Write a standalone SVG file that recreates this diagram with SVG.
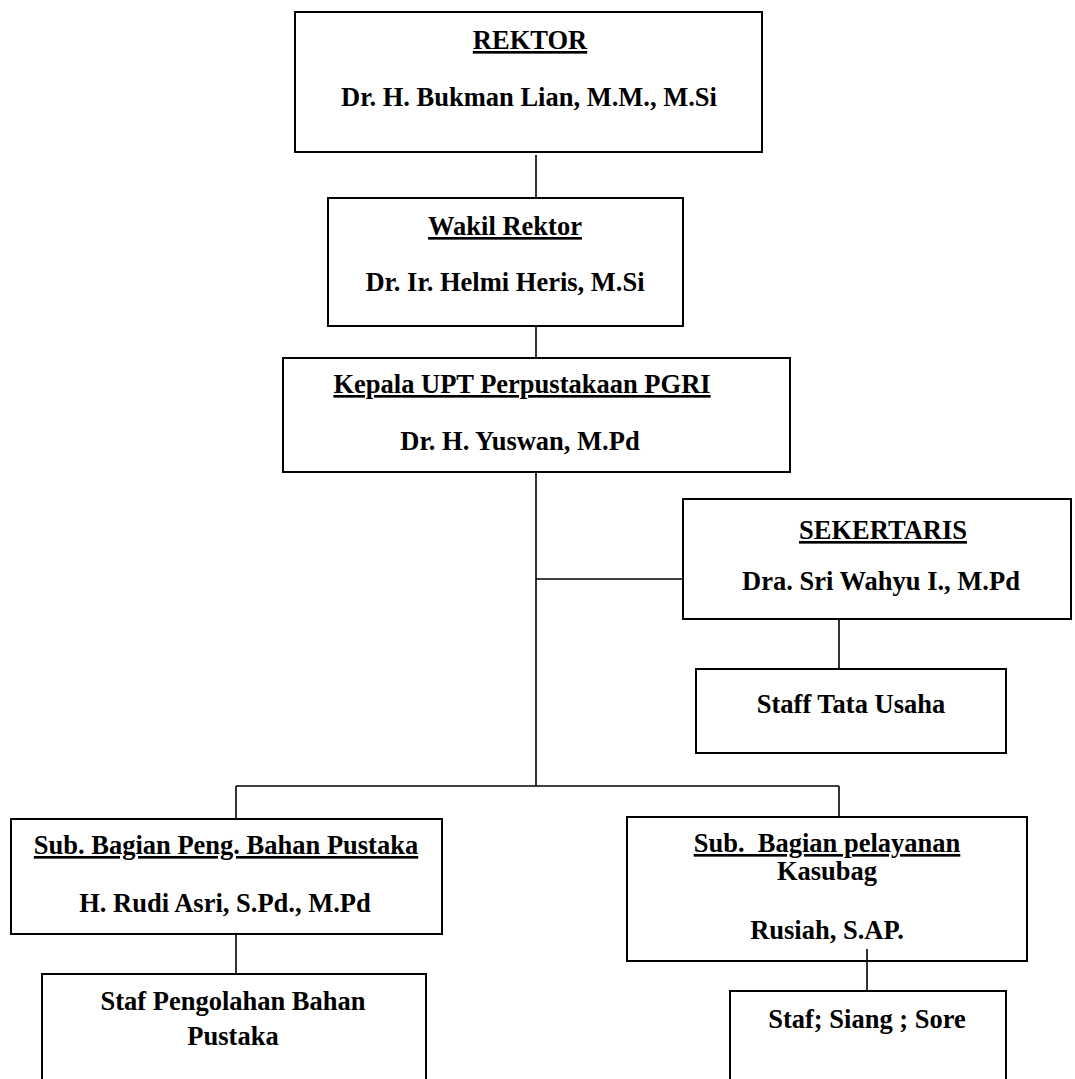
<svg xmlns="http://www.w3.org/2000/svg" width="1075" height="1079" viewBox="0 0 1075 1079">
<style>
.box{fill:#fff;stroke:#000;stroke-width:2}
.ln{fill:none;stroke:#000;stroke-width:1.6}
text{font-family:"Liberation Serif","Times New Roman",serif;font-weight:bold;font-size:26.5px;fill:#000;text-anchor:middle}
.u{text-decoration:underline}
</style>
<rect width="1075" height="1079" fill="#fff"/>
<g id="rektor">
<rect class="box" x="295" y="12" width="467" height="140"/>
<text class="u" x="530" y="49">REKTOR</text>
<text x="529" y="106">Dr. H. Bukman Lian, M.M., M.Si</text>
</g>
<g id="wakil">
<rect class="box" x="328" y="198" width="355" height="128"/>
<text class="u" x="505" y="235">Wakil Rektor</text>
<text x="505" y="291">Dr. Ir. Helmi Heris, M.Si</text>
</g>
<g id="kepala">
<rect class="box" x="283" y="358" width="507" height="114"/>
<text class="u" x="522" y="393">Kepala UPT Perpustakaan PGRI</text>
<text x="520" y="450">Dr. H. Yuswan, M.Pd</text>
</g>
<g id="sekertaris">
<rect class="box" x="683" y="499" width="388" height="120"/>
<text class="u" x="883" y="539">SEKERTARIS</text>
<text x="881" y="590">Dra. Sri Wahyu I., M.Pd</text>
</g>
<g id="staff-tu">
<rect class="box" x="696" y="669" width="310" height="84"/>
<text x="851" y="713">Staff Tata Usaha</text>
</g>
<g id="sub-peng">
<rect class="box" x="11" y="819" width="431" height="115"/>
<text class="u" x="226" y="854">Sub. Bagian Peng. Bahan Pustaka</text>
<text x="225" y="912">H. Rudi Asri, S.Pd., M.Pd</text>
</g>
<g id="staf-peng">
<rect class="box" x="42" y="974" width="384" height="120"/>
<text x="233" y="1010">Staf Pengolahan Bahan</text>
<text x="233" y="1045">Pustaka</text>
</g>
<g id="sub-pelayanan">
<rect class="box" x="627" y="817" width="400" height="144"/>
<text class="u" x="827" y="852" xml:space="preserve">Sub.  Bagian pelayanan</text>
<text x="827" y="880">Kasubag</text>
<text x="827" y="939">Rusiah, S.AP.</text>
</g>
<g id="staf-sore">
<rect class="box" x="730" y="991" width="276" height="110"/>
<text x="867" y="1028">Staf; Siang ; Sore</text>
</g>
<g id="connectors">
<line class="ln" x1="536" y1="155" x2="536" y2="197"/>
<line class="ln" x1="536" y1="327" x2="536" y2="357"/>
<line class="ln" x1="536" y1="473" x2="536" y2="786"/>
<line class="ln" x1="536" y1="579" x2="682" y2="579"/>
<line class="ln" x1="839" y1="620" x2="839" y2="668"/>
<line class="ln" x1="236" y1="786" x2="839" y2="786"/>
<line class="ln" x1="236" y1="786" x2="236" y2="818"/>
<line class="ln" x1="839" y1="786" x2="839" y2="816"/>
<line class="ln" x1="236" y1="935" x2="236" y2="973"/>
<line class="ln" x1="867" y1="949" x2="867" y2="990"/>
</g>
</svg>
